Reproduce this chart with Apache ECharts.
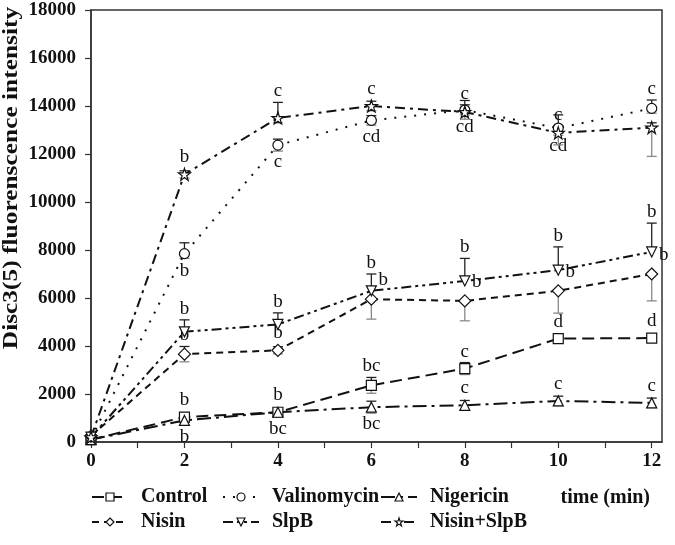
<!DOCTYPE html>
<html>
<head>
<meta charset="utf-8">
<script src="https://cdn.jsdelivr.net/npm/echarts@6/dist/echarts.min.js"></script>
<style>html,body{margin:0;padding:0;background:#fff}#c{width:675px;height:545px}</style>
</head>
<body>
<div id="c"></div>
<script>
// ---------- data ----------
const times = [0, 2, 4, 6, 8, 10, 12];
const xTickValues = [0, 1, 2, 3, 4, 5, 6, 7, 8, 9, 10, 11, 12];
const xLabelValues = [0, 2, 4, 6, 8, 10, 12];

const control      = [100, 1040, 1240, 2360, 3060, 4310, 4330];
const controlUp    = [0, 150, 100, 330, 250, 100, 100];
const controlDown  = [0, 150, 100, 330, 250, 100, 100];
const controlSig   = ['', 'b', 'b', 'bc', 'c', 'd', 'd'];
const controlPos   = ['', 'top', 'top', 'top', 'top', 'top', 'top'];

const valinomycin     = [150, 7850, 12370, 13400, 13830, 13080, 13900];
const valinomycinUp   = [0, 450, 250, 200, 400, 550, 350];
const valinomycinDown = [0, 200, 250, 200, 200, 300, 200];
const valinomycinSig  = ['', 'b', 'c', 'cd', 'cd', 'cd', 'c'];
const valinomycinPos  = ['', 'bottom', 'bottom', 'bottom', 'bottom', 'bottom', 'top'];

const nigericin     = [100, 900, 1240, 1450, 1530, 1710, 1630];
const nigericinUp   = [0, 200, 150, 250, 200, 200, 200];
const nigericinDown = [0, 200, 150, 250, 200, 200, 200];
const nigericinSig  = ['', 'b', 'bc', 'bc', 'c', 'c', 'c'];
const nigericinPos  = ['', 'bottom', 'bottom', 'bottom', 'top', 'top', 'top'];

const nisin     = [250, 3660, 3820, 5950, 5880, 6300, 7000];
const nisinUp   = [0, 320, 150, 0, 0, 0, 0];
const nisinDown = [0, 320, 150, 830, 830, 930, 1120];
const nisinSig  = ['', 'b', 'b', 'b', 'b', 'b', 'b'];
const nisinPos  = ['', 'top', 'top', 'right', 'right', 'right', 'right'];

const slpb     = [200, 4590, 4900, 6300, 6710, 7160, 7920];
const slpbUp   = [0, 500, 480, 700, 940, 970, 1200];
const slpbDown = [0, 0, 0, 0, 0, 0, 0];
const slpbSig  = ['', 'b', 'b', 'b', 'b', 'b', 'b'];
const slpbPos  = ['', 'top', 'top', 'top', 'top', 'top', 'top'];

const combo     = [200, 11150, 13500, 14000, 13750, 12880, 13100];
const comboUp   = [0, 150, 650, 200, 300, 300, 200];
const comboDown = [0, 150, 200, 200, 300, 500, 1200];
const comboSig  = ['', 'b', 'c', 'c', 'c', 'c', ''];
const comboPos  = ['', 'top', 'top', 'top', 'top', 'top', 'top'];

// ---------- chart ----------
const FONT = "'Liberation Serif', 'Times New Roman', serif";
const STAR = 'path://M50,2 L61,36 97,36 68,57 79,92 50,71 21,92 32,57 3,36 39,36 Z';
const HOLLOW = { color: '#fff', borderColor: '#111', borderWidth: 1.2 };

function lineSeries(name, vals, symbol, dash, extra) {
  return Object.assign({
    name: name, type: 'line', z: 3,
    data: times.map((t, i) => [t, vals[i]]),
    symbol: symbol, symbolSize: 10,
    lineStyle: { color: '#111', width: 2, type: dash },
    itemStyle: HOLLOW,
    emphasis: { disabled: true }
  }, extra || {});
}

function errSeries(vals, up, down, sig, pos) {
  return {
    type: 'custom', z: 2, silent: true, clip: false,
    data: times.map((t, i) => [t, vals[i]]),
    renderItem: function (params, api) {
      const i = params.dataIndex;
      const x = times[i], v = vals[i];
      const p = api.coord([x, v]);
      const pu = api.coord([x, v + up[i]]);
      const pd = api.coord([x, v - down[i]]);
      const ch = [];
      const cap = 5;
      if (up[i] > 0) {
        ch.push({ type: 'line', shape: { x1: p[0], y1: p[1], x2: pu[0], y2: pu[1] }, style: { stroke: '#222', lineWidth: 1.3 } });
        ch.push({ type: 'line', shape: { x1: p[0] - cap, y1: pu[1], x2: p[0] + cap, y2: pu[1] }, style: { stroke: '#222', lineWidth: 1.3 } });
      }
      if (down[i] > 0) {
        ch.push({ type: 'line', shape: { x1: p[0], y1: p[1], x2: pd[0], y2: pd[1] }, style: { stroke: '#888', lineWidth: 1.3 } });
        ch.push({ type: 'line', shape: { x1: p[0] - cap, y1: pd[1], x2: p[0] + cap, y2: pd[1] }, style: { stroke: '#888', lineWidth: 1.3 } });
      }
      if (sig[i]) {
        let tx = p[0], ty;
        if (pos[i] === 'top') ty = Math.min(pu[1], p[1] - 6) - 11;
        else if (pos[i] === 'bottom') ty = Math.max(pd[1], p[1] + 6) + 11;
        else { tx = p[0] + 12; ty = p[1] - 19; }
        ch.push({ type: 'text', style: { text: sig[i], x: tx, y: ty, align: 'center', verticalAlign: 'middle', font: '19px ' + FONT, fill: '#111' } });
      }
      return { type: 'group', children: ch };
    }
  };
}

const legendText = { fontFamily: FONT, fontWeight: 'bold', fontSize: 20, color: '#111', lineHeight: 20, padding: [0, 0, 0, 8] };
function legendCol(names, left) {
  return {
    data: names, left: left, top: 487, orient: 'vertical', itemGap: 5,
    itemWidth: 36, itemHeight: 10, selectedMode: false, padding: 0,
    itemStyle: HOLLOW,
    textStyle: legendText
  };
}

const chart = echarts.init(document.getElementById('c'), null, { renderer: 'canvas' });
chart.setOption({
  animation: false,
  backgroundColor: '#fff',
  grid: { left: 91, right: 13, top: 10, bottom: 103, show: true, borderColor: '#333', borderWidth: 1.5, backgroundColor: 'transparent' },
  legend: [
    legendCol(['Control', 'Nisin'], 91),
    legendCol(['Valinomycin', 'SlpB'], 222),
    legendCol(['Nigericin', 'Nisin+SlpB'], 380)
  ],
  xAxis: {
    type: 'value', min: 0, max: 12.22,
    name: 'time (min)', nameLocation: 'end', nameGap: -12,
    nameTextStyle: { fontFamily: FONT, fontWeight: 'bold', fontSize: 20, color: '#111', align: 'right', verticalAlign: 'top', padding: [46, 0, 0, 0] },
    axisLine: { lineStyle: { color: '#333', width: 1.5 } },
    axisTick: { length: 6, lineStyle: { color: '#333', width: 1.2 }, customValues: xTickValues },
    axisLabel: { customValues: xLabelValues, margin: 10, fontFamily: FONT, fontWeight: 'bold', fontSize: 19, color: '#111' },
    splitLine: { show: false }
  },
  yAxis: {
    type: 'value', min: 0, max: 18000, interval: 2000,
    axisLine: { show: true, lineStyle: { color: '#333', width: 1.5 } },
    axisTick: { show: true, length: 6, lineStyle: { color: '#333', width: 1.2 } },
    axisLabel: { margin: 15, fontFamily: FONT, fontWeight: 'bold', fontSize: 19, color: '#111', formatter: v => String(v) },
    splitLine: { show: false }
  },
  graphic: [{
    type: 'text', x: 12, y: 178, rotation: Math.PI / 2, scaleX: 1.27,
    style: { text: 'Disc3(5) fluorenscence intensity', font: 'bold 20px ' + FONT, fill: '#111', align: 'center', verticalAlign: 'middle' }
  }],
  series: [
    errSeries(control, controlUp, controlDown, controlSig, controlPos),
    errSeries(valinomycin, valinomycinUp, valinomycinDown, valinomycinSig, valinomycinPos),
    errSeries(nigericin, nigericinUp, nigericinDown, nigericinSig, nigericinPos),
    errSeries(nisin, nisinUp, nisinDown, nisinSig, nisinPos),
    errSeries(slpb, slpbUp, slpbDown, slpbSig, slpbPos),
    errSeries(combo, comboUp, comboDown, comboSig, comboPos),
    lineSeries('Control', control, 'rect', [12, 6]),
    lineSeries('Valinomycin', valinomycin, 'circle', [2, 8]),
    lineSeries('Nigericin', nigericin, 'triangle', [14, 5, 3, 5]),
    lineSeries('Nisin', nisin, 'diamond', [7, 5], { symbolSize: 12 }),
    lineSeries('SlpB', slpb, 'triangle', [10, 4, 3, 4, 3, 4], { symbolRotate: 180 }),
    lineSeries('Nisin+SlpB', combo, STAR, [10, 5, 3, 5], { symbolSize: 12 })
  ]
});
</script>
</body>
</html>
